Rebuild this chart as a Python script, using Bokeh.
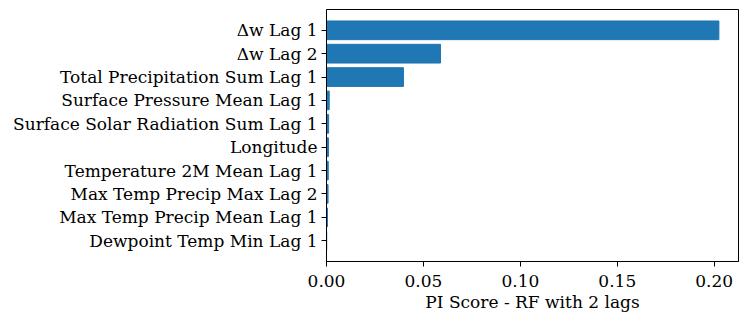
from bokeh.plotting import figure
from bokeh.models import FactorRange, Range1d, FixedTicker, NumeralTickFormatter
from bokeh.embed import file_html
from bokeh.resources import INLINE

features = [
    "Δw Lag 1",
    "Δw Lag 2",
    "Total Precipitation Sum Lag 1",
    "Surface Pressure Mean Lag 1",
    "Surface Solar Radiation Sum Lag 1",
    "Longitude",
    "Temperature 2M Mean Lag 1",
    "Max Temp Precip Max Lag 2",
    "Max Temp Precip Mean Lag 1",
    "Dewpoint Temp Min Lag 1",
]
scores = [0.2024, 0.0588, 0.0397, 0.0014, 0.0011, 0.0010, 0.0009, 0.0008, 0.0005, 0.0001]
x_ticks = [0.0, 0.05, 0.10, 0.15, 0.20]
x_label = "PI Score - RF with 2 lags"

FONT = "DejaVu Serif"
xmax = max(scores) * 1.05

p = figure(
    width=740, height=314,
    y_range=FactorRange(factors=features[::-1], range_padding=0.078),
    x_range=Range1d(0, xmax),
    output_backend="svg", toolbar_location=None,
    min_border_left=326, min_border_right=2, min_border_top=9, min_border_bottom=52,
)
p.hbar(y=features, right=scores, left=0, height=0.8, color="#1f77b4")

p.xgrid.visible = False
p.ygrid.visible = False
p.outline_line_color = "black"
p.outline_line_alpha = 1
p.outline_line_width = 1

p.xaxis.ticker = FixedTicker(ticks=x_ticks)
p.xaxis.formatter = NumeralTickFormatter(format="0.00")
p.xaxis.axis_label = x_label

for ax in (p.xaxis, p.yaxis):
    ax.axis_line_color = "black"
    ax.major_tick_line_color = "black"
    ax.major_tick_out = 5
    ax.major_tick_in = 0
    ax.minor_tick_line_color = None
    ax.major_label_text_font = FONT
    ax.major_label_text_font_size = "17px"
    ax.major_label_text_color = "black"
    ax.axis_label_text_font = FONT
    ax.axis_label_text_font_size = "17px"
    ax.axis_label_text_font_style = "normal"
    ax.axis_label_text_color = "black"
p.yaxis.major_label_standoff = 4
p.xaxis.major_label_standoff = 8
p.xaxis.axis_label_standoff = 2

open("out.html", "w").write(file_html(p, INLINE))
